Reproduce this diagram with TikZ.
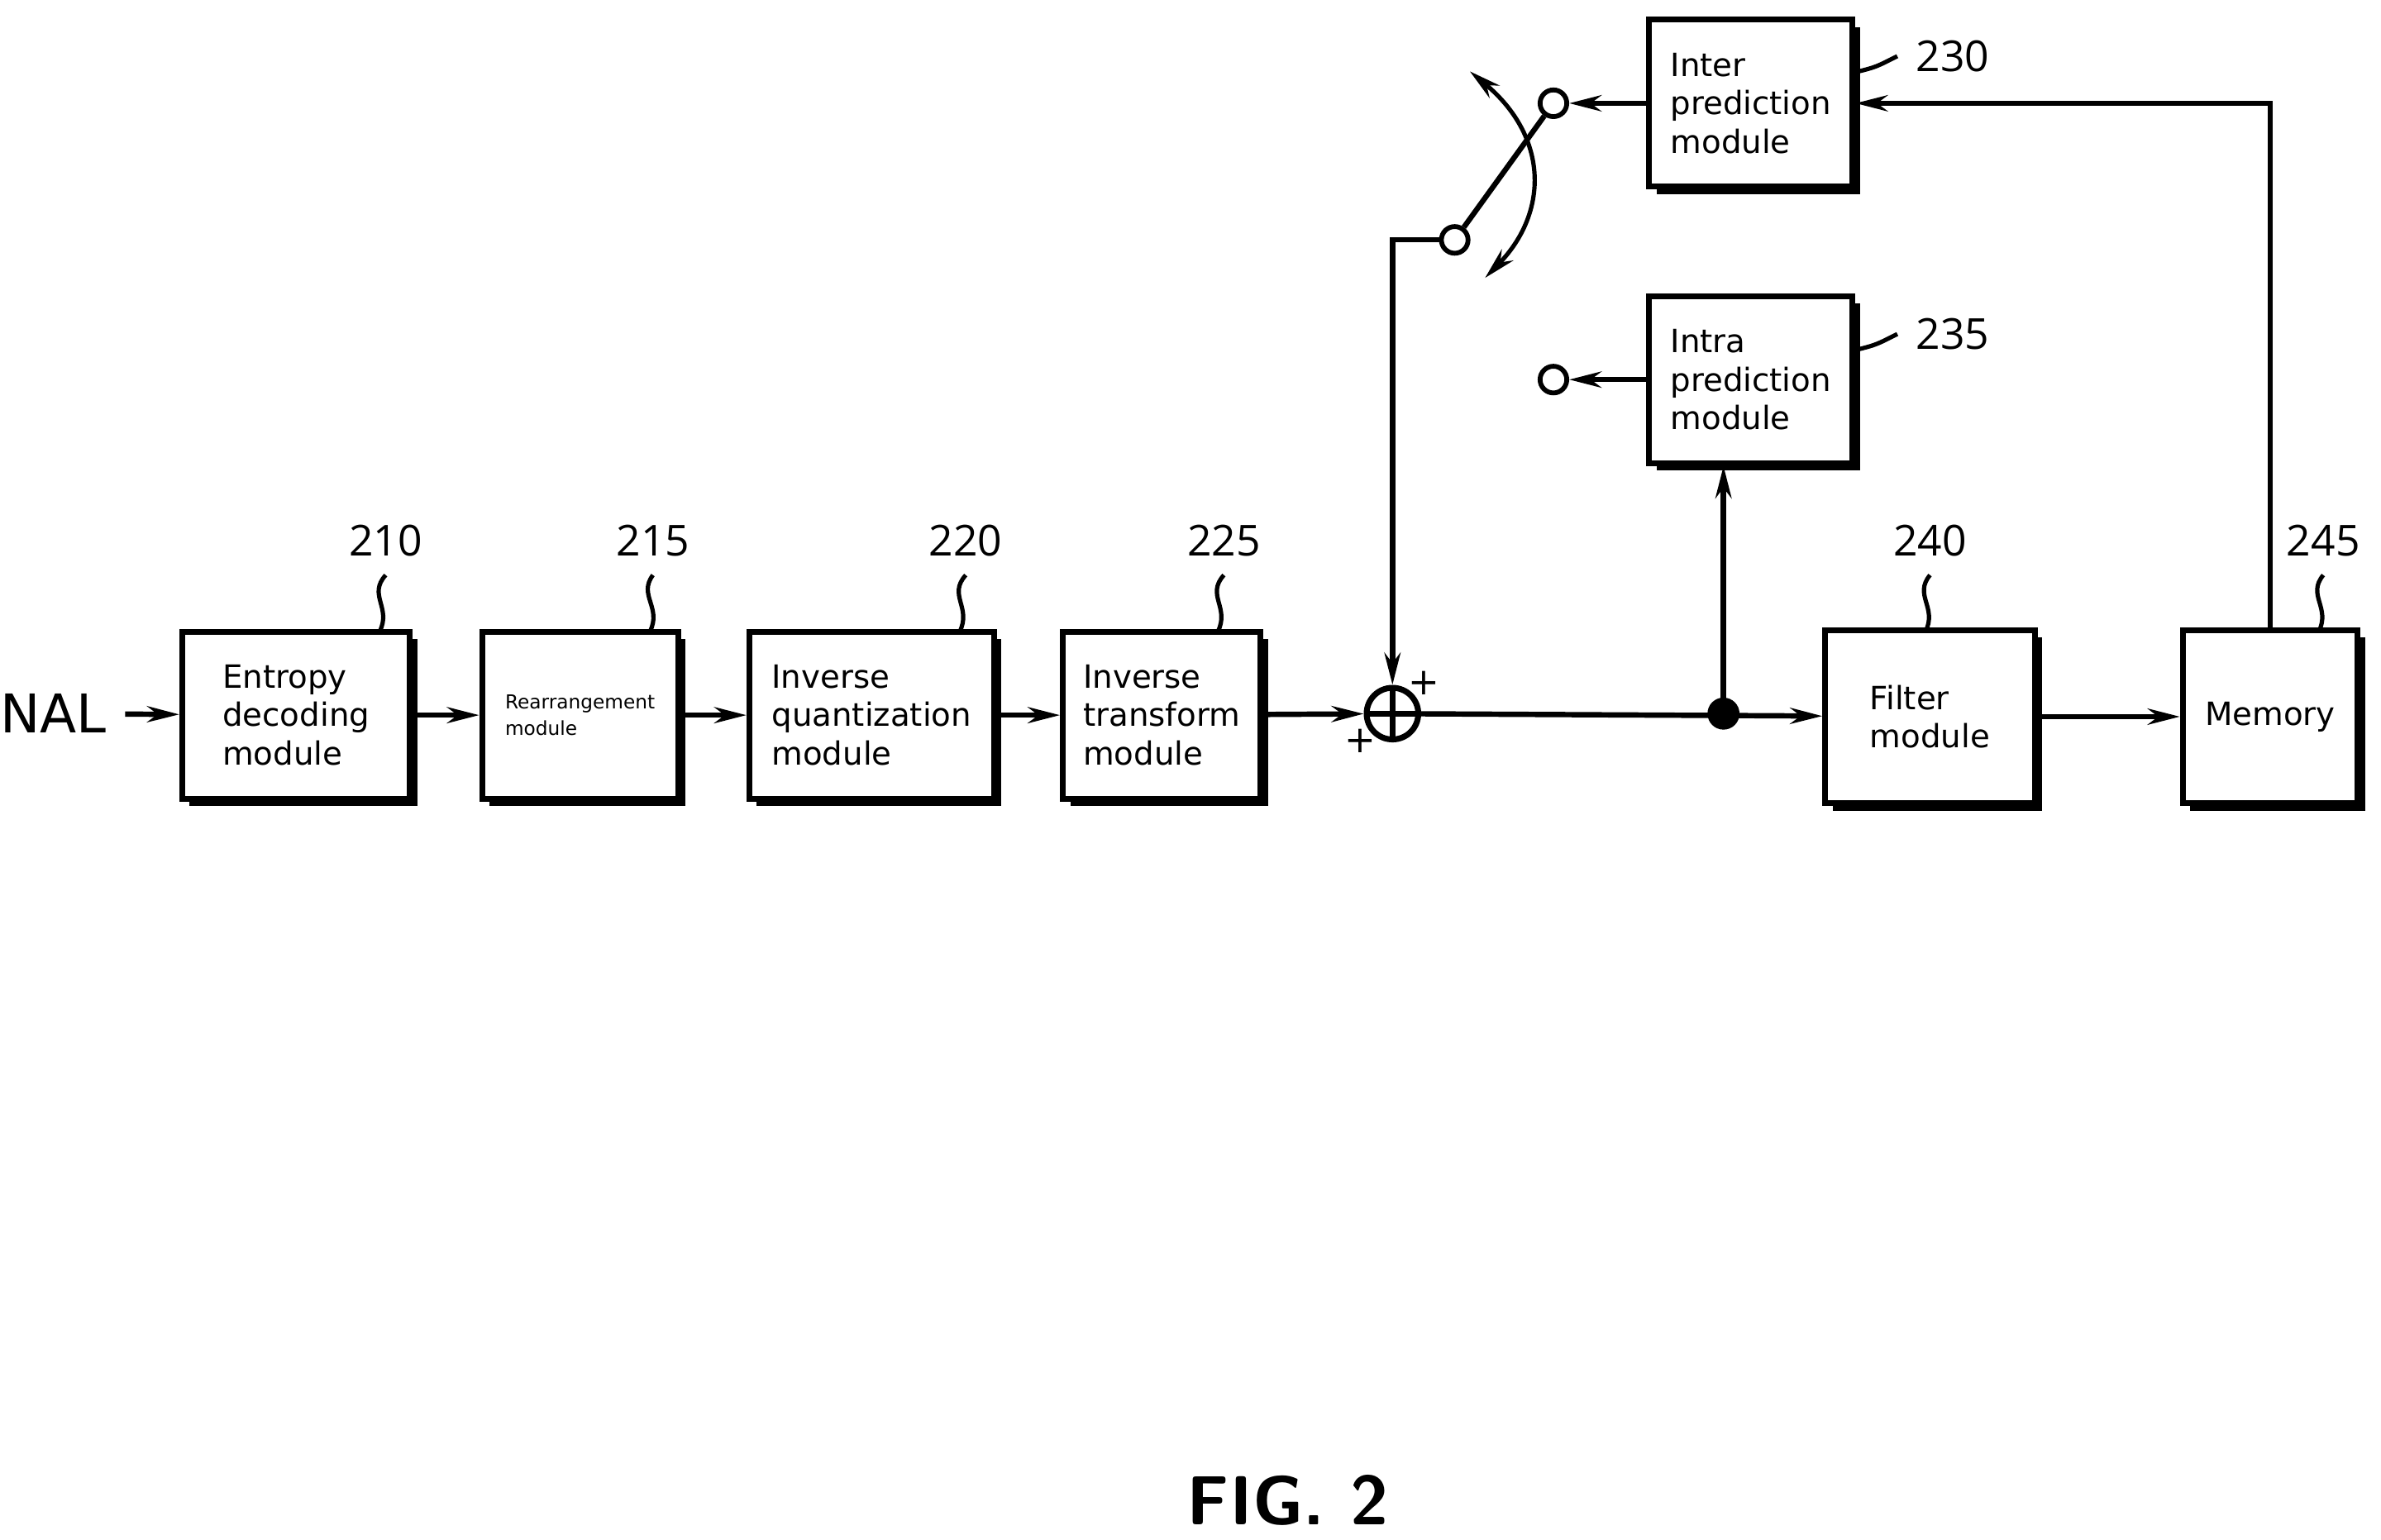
\documentclass[tikz,border=0pt]{standalone}
\usepackage{fontspec}
\setmainfont{DejaVu Sans}
\newfontfamily\numfont{Open Sans}
\usetikzlibrary{arrows.meta,positioning,shadows}
\begin{document}
\begin{tikzpicture}[x=0.1mm,y=-0.1mm,
        >={Stealth[length=6pt,width=3pt]},
        block/.style={draw,line width=1.1pt,minimum width=#1,minimum height=11mm,fill=white,
            align=left,font=\fontsize{6}{7.2}\selectfont,
            drop shadow={shadow xshift=1.4pt,shadow yshift=-1.4pt,fill=black,opacity=1}},
        num/.style={font=\numfont\fontsize{8}{9}\selectfont},
        port/.style={draw,circle,line width=0.9pt,inner sep=0pt,minimum size=5pt,fill=white},
        wire/.style={line width=1pt},
        ]
    \useasboundingbox (0,0) rectangle (1568,1014);
    % blocks
    \node[block=15mm] (ent) at (195,471) {Entropy\\decoding\\module};
    \node[block=12.9mm,font=\fontsize{3.6}{5}\selectfont] (rea) at (382,471) {Rearrangement\\module};
    \node[block=16.1mm] (iq) at (574,471) {Inverse\\quantization\\module};
    \node[block=13mm] (it) at (765,471) {Inverse\\transform\\module};
    \node[draw,circle,line width=1.1pt,minimum size=3.4mm,inner sep=0pt] (sum) at (917,470) {};
    \draw[line width=1.1pt] (sum.north) -- (sum.south) (sum.west) -- (sum.east);
    \node[block=13.8mm,minimum height=11.4mm] (flt) at (1271,472) {Filter\\module};
    \node[block=11.5mm,minimum height=11.4mm] (mem) at (1495,472) {Memory};
    \node[block=13.4mm] (inter) at (1153,68) {Inter\\prediction\\module};
    \node[block=13.4mm] (intra) at (1153,250) {Intra\\prediction\\module};
    % reference numbers
    \node[num] (n210) at (254,356) {210};
    \node[num] (n215) at (430,356) {215};
    \node[num] (n220) at (636,356) {220};
    \node[num] (n225) at (806,356) {225};
    \node[num] (n240) at (1271,356) {240};
    \node[num] (n245) at (1530,356) {245};
    \node[num] (n230) at (1286,37) {230};
    \node[num] (n235) at (1286,220) {235};
    \foreach \n/\b/\x in {n210/ent/250,n215/rea/428,n220/iq/632,n225/it/802,n240/flt/1268,n245/mem/1527}
        \draw[line width=0.8pt] (\n.south) .. controls (\x-8,392) and (\x+8,400) .. (\x,416);
    \foreach \n/\b in {n230/inter,n235/intra}
        \draw[line width=0.8pt] (\n.west) .. controls +(-4pt,-2pt) and +(4pt,1pt) .. ([yshift=-3pt]\b.east |- \n.west);
    % main path
    \node[font=\fontsize{10}{11}\selectfont] (nal) at (35,470) {NAL};
    \draw[wire,->] (nal) -- (ent);
    \draw[wire,->] (ent) -- (rea);
    \draw[wire,->] (rea) -- (iq);
    \draw[wire,->] (iq) -- (it);
    \draw[wire,->] (it) -- (sum);
    \coordinate (jn) at (1135,470);
    \draw[wire,->] (sum) -- (flt);
    \fill (jn) circle (3pt);
    \draw[wire,->] (jn) -- (jn |- intra.south);
    \draw[wire,->] (flt) -- (mem);
    \draw[wire,->] (mem.north) |- (inter.east);
    \node[font=\fontsize{7}{7}\selectfont] at (938,450) {+};
    \node[font=\fontsize{7}{7}\selectfont] at (896,488) {+};
    % switch
    \node[port] (pa) at (1023,68) {};
    \node[port] (pb) at (958,158) {};
    \node[port] (pc) at (1023,250) {};
    \draw[wire,->] (inter.west) -- (pa);
    \draw[wire,->] (intra.west) -- (pc);
    \draw[wire] (pb) -- (pa);
    \draw[wire,->] (pb.west) -| (sum.north);
    \draw[line width=0.8pt,<->] (968,47) .. controls (1020,90) and (1020,140) .. (978,183);
    \node[font=\sffamily\bfseries\fontsize{13}{15}\selectfont] (fig) at (848,988) {FIG. 2};
\end{tikzpicture}
\end{document}
